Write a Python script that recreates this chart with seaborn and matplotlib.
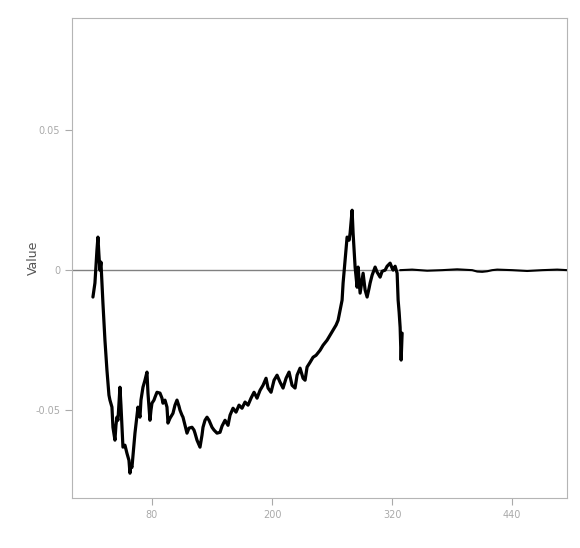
import numpy as np
import pandas as pd
import matplotlib
matplotlib.use('Agg')
import matplotlib.pyplot as plt
import seaborn as sns

# main series (x = step index, y = value)
x_main = [21, 23, 25, 26, 27, 28, 29, 31, 33, 35, 37, 38, 40, 41, 43, 44, 45, 46, 48, 49,
          50, 51, 53, 55, 57, 58, 59, 60, 62, 63, 65, 66, 68, 69, 71, 73, 75, 76, 78, 79,
          80, 82, 83, 85, 88, 90, 91, 93, 95, 96, 98, 101, 103, 105, 107, 108, 110, 111, 113, 115,
          117, 120, 122, 123, 125, 128, 130, 131, 133, 135, 137, 140, 142, 145, 148, 150, 153, 156, 158, 161,
          164, 167, 170, 173, 176, 179, 182, 185, 188, 191, 194, 196, 199, 202, 205, 208, 211, 214, 217, 220,
          223, 225, 228, 231, 233, 235, 238, 241, 244, 248, 251, 255, 258, 261, 264, 266, 268, 270, 271, 273,
          275, 277, 278, 280, 281, 283, 285, 286, 288, 290, 291, 293, 295, 297, 298, 300, 303, 305, 308, 310,
          313, 315, 318, 320, 321, 323, 325, 326, 327, 328, 329, 330]
y_main = [-0.0096, -0.0046, 0.0071, 0.0118, 0.0054, 0.0, 0.0029, -0.0118, -0.025, -0.0357,
          -0.0446, -0.0464, -0.0489, -0.0561, -0.0607, -0.0554, -0.0525, -0.0536, -0.0418, -0.0482,
          -0.0561, -0.0632, -0.0625, -0.0654, -0.0679, -0.0725, -0.0696, -0.0704, -0.0625, -0.0582,
          -0.0518, -0.0489, -0.0525, -0.0464, -0.0418, -0.0393, -0.0364, -0.0439, -0.0536, -0.05,
          -0.0475, -0.0464, -0.0454, -0.0436, -0.0439, -0.0457, -0.0475, -0.0464, -0.0489, -0.0546,
          -0.0529, -0.0511, -0.0482, -0.0464, -0.0486, -0.05, -0.0518, -0.0525, -0.0554, -0.0582,
          -0.0564, -0.0561, -0.0571, -0.0582, -0.0607, -0.0632, -0.0589, -0.0561, -0.0536, -0.0525,
          -0.0536, -0.0561, -0.0571, -0.0582, -0.0579, -0.0557, -0.0536, -0.0554, -0.0518, -0.0493,
          -0.0507, -0.0482, -0.0493, -0.0471, -0.0482, -0.0457, -0.0436, -0.0457, -0.0429, -0.0411,
          -0.0386, -0.0421, -0.0436, -0.0393, -0.0375, -0.04, -0.0421, -0.0386, -0.0364, -0.0411,
          -0.0421, -0.0375, -0.035, -0.0386, -0.0393, -0.0346, -0.0329, -0.0311, -0.0304, -0.0286,
          -0.0268, -0.025, -0.0232, -0.0214, -0.0196, -0.0179, -0.0143, -0.0107, -0.0046, 0.0036,
          0.0118, 0.0107, 0.0132, 0.0214, 0.0132, 0.0011, -0.0061, 0.0011, -0.0082, -0.0036,
          -0.0011, -0.0071, -0.0096, -0.0064, -0.0046, -0.0018, 0.0011, -0.0007, -0.0025, -0.0004,
          0.0, 0.0014, 0.0025, 0.0007, 0.0, 0.0014, -0.0011, -0.0107, -0.015, -0.0204,
          -0.0321, -0.0225]

# flat tail after the drop
x_tail = [328, 340, 355, 370, 385, 400, 405, 410, 415, 420, 425, 440, 455, 470, 485, 495]
y_tail = [0.0, 0.0002, -0.0002, 0.0, 0.0003, 0.0, -0.0005, -0.0006, -0.0004, 0.0, 0.0002, 0.0, -0.0003, 0.0, 0.0002, 0.0]

x_ticks = [80, 200, 320, 440]
y_ticks = [-0.05, 0, 0.05]

main = pd.DataFrame({'x': x_main, 'y': y_main})
tail = pd.DataFrame({'x': x_tail, 'y': y_tail})

sns.set_theme(style='ticks')
plt.rcParams['font.family'] = ['DejaVu Sans']

fig = plt.figure(figsize=(5.8, 5.48), dpi=100)
ax = fig.add_axes([0.124, 0.091, 0.854, 0.876])

ax.axhline(0, color='#808080', lw=1.0, zorder=1)
sns.lineplot(data=tail, x='x', y='y', color='black', lw=1.5, ax=ax, zorder=2)
sns.lineplot(data=main, x='x', y='y', color='black', lw=2.3, ax=ax, zorder=3)

ax.set_xlim(0, 495)
ax.set_ylim(-0.0814, 0.09)
ax.set_xticks(x_ticks)
ax.set_yticks(y_ticks)
ax.set_xticklabels([str(v) for v in x_ticks])
ax.set_yticklabels(['-0.05', '0', '0.05'])
ax.tick_params(labelsize=7, colors='#aaaaaa', length=5, width=0.8)
ax.set_xlabel('')
ax.set_ylabel('Value', fontsize=9, color='#555555')
ax.yaxis.set_label_coords(-0.065, 0.5)

for s in ax.spines.values():
    s.set_color('#b5b5b5')
    s.set_linewidth(0.8)

fig.savefig('out.png', dpi=100)
